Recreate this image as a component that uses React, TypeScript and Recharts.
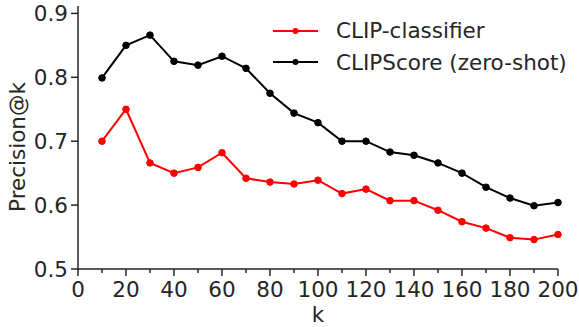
import { LineChart, Line, XAxis, YAxis } from "recharts";

const K = [10, 20, 30, 40, 50, 60, 70, 80, 90, 100, 110, 120, 130, 140, 150, 160, 170, 180, 190, 200];
const CLIP_CLASSIFIER = [0.7, 0.75, 0.666, 0.65, 0.659, 0.682, 0.642, 0.636, 0.633, 0.639, 0.618, 0.625, 0.607, 0.607, 0.592, 0.574, 0.564, 0.549, 0.546, 0.554];
const CLIPSCORE = [0.799, 0.85, 0.866, 0.825, 0.819, 0.833, 0.814, 0.775, 0.744, 0.729, 0.7, 0.7, 0.683, 0.678, 0.666, 0.65, 0.628, 0.611, 0.599, 0.604];
const X_TICKS = [0, 10, 20, 30, 40, 50, 60, 70, 80, 90, 100, 110, 120, 130, 140, 150, 160, 170, 180, 190, 200];
const Y_TICKS = [0.5, 0.6, 0.7, 0.8, 0.9];

const SERIES = [
  { key: "classifier", name: "CLIP-classifier", color: "#ff0000" },
  { key: "clipscore", name: "CLIPScore (zero-shot)", color: "#000000" },
];

const data = K.map((k, i) => ({ k, classifier: CLIP_CLASSIFIER[i], clipscore: CLIPSCORE[i] }));

const FONT = "'DejaVu Sans', sans-serif";
const FS = 21.5;
const INK = "#262626";

const XTick = (props: any) => {
  const { x, y, payload } = props;
  const major = payload.value % 20 === 0;
  return (
    <g>
      <line x1={x} x2={x} y1={y} y2={y + (major ? 7 : 4)} stroke={INK} strokeWidth={1.5} />
      {major && (
        <text x={x} y={y + 28} textAnchor="middle" fill={INK} fontSize={FS} fontFamily={FONT}>
          {payload.value}
        </text>
      )}
    </g>
  );
};

// legend drawn as an overlay so it doesn't take space from the plot
const LegendBox = () => (
  <div style={{ position: "absolute", left: 273, top: 15, fontFamily: FONT, fontSize: FS, color: INK }}>
    {SERIES.map((s) => (
      <div key={s.key} style={{ display: "flex", alignItems: "center", height: 31.6, whiteSpace: "nowrap" }}>
        <svg width={45} height={10} style={{ marginRight: 18 }}>
          <line x1={0} x2={45} y1={5} y2={5} stroke={s.color} strokeWidth={2} />
          <circle cx={22.5} cy={5} r={3} fill={s.color} />
        </svg>
        <span>{s.name}</span>
      </div>
    ))}
  </div>
);

export default function App() {
  return (
    <div style={{ position: "absolute", left: 0, top: 0, width: 579, height: 327, background: "#fff" }}>
      <LineChart width={579} height={327} data={data} margin={{ top: 6, right: 21, bottom: 0, left: 0 }}>
        <XAxis
          type="number"
          dataKey="k"
          domain={[0, 200]}
          ticks={X_TICKS}
          interval={0}
          tickSize={0}
          tickMargin={0}
          tick={<XTick />}
          height={58}
          axisLine={{ stroke: INK, strokeWidth: 1.5 }}
          label={{
            content: () => (
              <text x={318} y={322} textAnchor="middle" fill={INK} fontSize={FS} fontFamily={FONT}>
                k
              </text>
            ),
          }}
        />
        <YAxis
          type="number"
          domain={[0.5, 0.9116]}
          ticks={Y_TICKS}
          interval={0}
          allowDataOverflow
          width={78}
          tickSize={7}
          tickMargin={3}
          tickLine={{ stroke: INK, strokeWidth: 1.5 }}
          axisLine={{ stroke: INK, strokeWidth: 1.5 }}
          tick={{ fill: INK, fontSize: FS, fontFamily: FONT }}
          tickFormatter={(v: number) => v.toFixed(1)}
          label={{
            content: () => (
              <text
                x={25}
                y={147}
                transform="rotate(-90, 25, 147)"
                textAnchor="middle"
                fill={INK}
                fontSize={FS}
                fontFamily={FONT}
              >
                Precision@k
              </text>
            ),
          }}
        />
        {SERIES.map((s) => (
          <Line
            key={s.key}
            dataKey={s.key}
            name={s.name}
            stroke={s.color}
            strokeWidth={2}
            dot={{ r: 3.3, fill: s.color, stroke: s.color, strokeWidth: 1 }}
            isAnimationActive={false}
          />
        ))}
      </LineChart>
      <LegendBox />
    </div>
  );
}
